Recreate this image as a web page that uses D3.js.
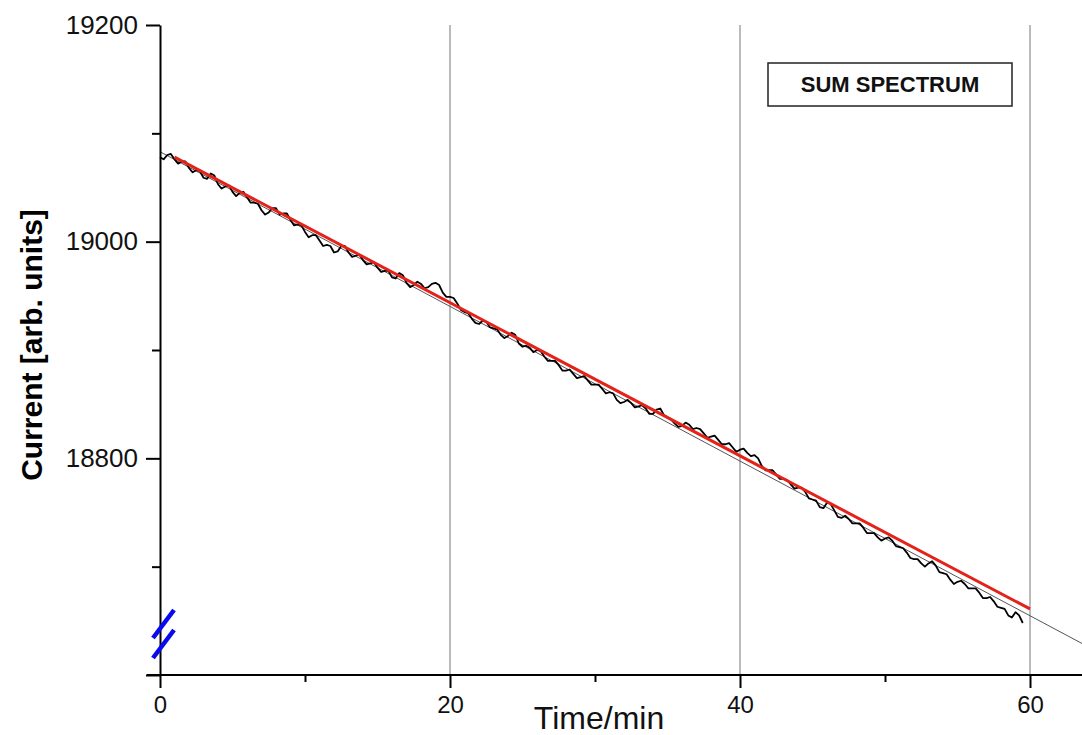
<!DOCTYPE html>
<html>
<head>
<meta charset="utf-8">
<script src="https://cdn.jsdelivr.net/npm/d3@7"></script>
<style>
  html, body { margin: 0; padding: 0; background: #fff; }
  svg { display: block; }
</style>
</head>
<body>
<svg id="chart" width="1082" height="735"></svg>
<script>
// ---- data ----
const timeStart = 0;      // min
const timeStep = 0.25;    // min between samples
const currentValues = [
  19078, 19076, 19080, 19081, 19076, 19072, 19074, 19074, 19068, 19064,
  19066, 19065, 19059, 19058, 19063, 19061, 19053, 19049, 19051, 19052,
  19046, 19042, 19045, 19046, 19041, 19036, 19036, 19035, 19029, 19025,
  19027, 19031, 19031, 19025, 19026, 19026, 19020, 19015, 19016, 19015,
  19009, 19004, 19006, 19006, 19001, 18996, 18997, 18996, 18990, 18991,
  18996, 18996, 18990, 18986, 18987, 18988, 18983, 18979, 18980, 18981,
  18976, 18972, 18973, 18973, 18967, 18966, 18971, 18969, 18962, 18958,
  18960, 18963, 18961, 18957, 18958, 18961, 18962, 18960, 18953, 18949,
  18949, 18948, 18943, 18937, 18935, 18934, 18929, 18925, 18924, 18927,
  18926, 18921, 18920, 18919, 18914, 18911, 18913, 18916, 18914, 18906,
  18903, 18904, 18902, 18898, 18900, 18899, 18894, 18890, 18890, 18890,
  18886, 18881, 18881, 18882, 18878, 18874, 18875, 18876, 18872, 18868,
  18868, 18868, 18864, 18860, 18861, 18860, 18854, 18851, 18852, 18854,
  18851, 18847, 18848, 18849, 18846, 18841, 18841, 18845, 18846, 18840,
  18838, 18836, 18832, 18829, 18830, 18833, 18831, 18827, 18828, 18827,
  18823, 18819, 18820, 18821, 18817, 18813, 18813, 18814, 18810, 18806,
  18808, 18809, 18805, 18802, 18803, 18800, 18793, 18789, 18789, 18789,
  18785, 18781, 18781, 18780, 18776, 18772, 18773, 18773, 18769, 18763,
  18762, 18761, 18755, 18754, 18759, 18758, 18752, 18746, 18745, 18747,
  18744, 18740, 18740, 18740, 18736, 18731, 18731, 18731, 18727, 18724,
  18726, 18727, 18724, 18719, 18718, 18717, 18713, 18708, 18707, 18707,
  18703, 18700, 18703, 18705, 18701, 18695, 18694, 18693, 18688, 18684,
  18686, 18687, 18684, 18680, 18680, 18680, 18676, 18671, 18671, 18672,
  18668, 18663, 18662, 18661, 18655, 18653, 18658, 18655, 18648
];
const redFitTimes = [1, 60];
const redFitValues = [19078, 18661];
const greyFitTimes = [0, 63.6];
const greyFitValues = [19083, 18629];
const xMajorTicks = [0, 20, 40, 60];
const xMinorTicks = [10, 30, 50];
const yMajorTicks = [18600, 18800, 19000, 19200];
const yMinorTicks = [18700, 18900, 19100];
const yTickLabels = ["", "18800", "19000", "19200"];
const gridTimes = [20, 40, 60];
const legendText = "SUM SPECTRUM";
const xTitle = "Time/min";
const yTitle = "Current [arb. units]";

// ---- chart ----
const svg = d3.select("#chart");
const x = d3.scaleLinear().domain([0, 63.586]).range([160, 1082]);
const y = d3.scaleLinear().domain([18600, 19200]).range([675, 25]);
const font = "'Liberation Sans', Arial, sans-serif";

// grid lines
svg.append("g").selectAll("line").data(gridTimes).join("line")
  .attr("x1", d => x(d)).attr("x2", d => x(d))
  .attr("y1", y(19200)).attr("y2", y(18600))
  .attr("stroke", "#777").attr("stroke-width", 1);

// data series
const series = currentValues.map((v, i) => [timeStart + i * timeStep, v]);
const line = d3.line().x(d => x(d[0])).y(d => y(d[1]));

svg.append("path").datum(greyFitTimes.map((t, i) => [t, greyFitValues[i]]))
  .attr("d", line).attr("fill", "none")
  .attr("stroke", "#555").attr("stroke-width", 1);

svg.append("path").datum(series)
  .attr("d", line).attr("fill", "none")
  .attr("stroke", "#000").attr("stroke-width", 1.8)
  .attr("stroke-linejoin", "round");

svg.append("path").datum(redFitTimes.map((t, i) => [t, redFitValues[i]]))
  .attr("d", line).attr("fill", "none")
  .attr("stroke", "#e32219").attr("stroke-width", 3);

// x axis
const xAxis = svg.append("g").attr("transform", `translate(0,${y(18600)})`)
  .call(d3.axisBottom(x).tickValues(xMajorTicks).tickSize(13).tickSizeOuter(0).tickPadding(8));
xAxis.select(".domain").remove();
xAxis.append("line").attr("x1", 147).attr("x2", 1082).attr("y1", 0).attr("y2", 0)
  .attr("stroke", "#000").attr("stroke-width", 2);
xAxis.selectAll(".tick line").attr("stroke-width", 2);
xAxis.selectAll(".tick text").attr("font-family", font).attr("font-size", 24).attr("fill", "#111");
svg.append("g").attr("transform", `translate(0,${y(18600)})`)
  .call(d3.axisBottom(x).tickValues(xMinorTicks).tickSize(7).tickFormat(""))
  .call(g => g.select(".domain").remove())
  .selectAll(".tick line").attr("stroke-width", 2);

// y axis
const yAxis = svg.append("g").attr("transform", `translate(${x(0)},0)`)
  .call(d3.axisLeft(y).tickValues(yMajorTicks).tickSize(14).tickSizeOuter(0).tickPadding(8)
    .tickFormat((d, i) => yTickLabels[i]));
yAxis.select(".domain").attr("stroke-width", 2);
yAxis.selectAll(".tick line").attr("stroke-width", 2);
yAxis.selectAll(".tick text").attr("font-family", font).attr("font-size", 26).attr("fill", "#111");
svg.append("g").attr("transform", `translate(${x(0)},0)`)
  .call(d3.axisLeft(y).tickValues(yMinorTicks).tickSize(8).tickFormat(""))
  .call(g => g.select(".domain").remove())
  .selectAll(".tick line").attr("stroke-width", 2);

// axis break marks
const bx = x(0);
svg.append("g").selectAll("line").data([0, 20]).join("line")
  .attr("x1", d => bx - 7).attr("y1", d => 638 + d)
  .attr("x2", d => bx + 14).attr("y2", d => 610 + d)
  .attr("stroke", "#0a0aee").attr("stroke-width", 4.5);

// titles
svg.append("text").attr("x", 599).attr("y", 729).attr("text-anchor", "middle")
  .attr("font-family", font).attr("font-size", 32).attr("fill", "#111").text(xTitle);
svg.append("text").attr("transform", "translate(42,345) rotate(-90)")
  .attr("text-anchor", "middle").attr("font-family", font).attr("font-weight", "bold")
  .attr("font-size", 30).attr("fill", "#000").text(yTitle);

// legend
svg.append("rect").attr("x", 768).attr("y", 63).attr("width", 244).attr("height", 43)
  .attr("fill", "#fff").attr("stroke", "#222").attr("stroke-width", 1.5);
svg.append("text").attr("x", 890).attr("y", 92).attr("text-anchor", "middle")
  .attr("font-family", font).attr("font-weight", "bold").attr("font-size", 22)
  .attr("fill", "#111").text(legendText);
</script>
</body>
</html>
